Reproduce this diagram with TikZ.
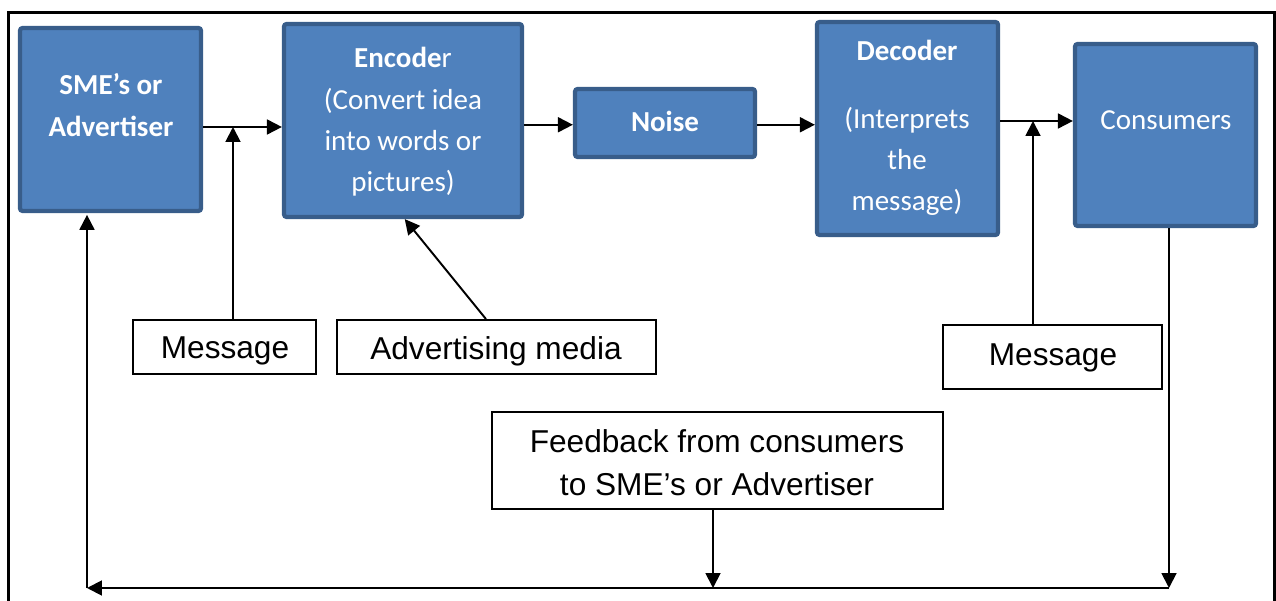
\documentclass[tikz,border=0pt]{standalone}
\usepackage{fontspec}
\setmainfont{Carlito}
\newfontfamily\arialfont{Liberation Sans}
\usetikzlibrary{arrows.meta, positioning, fit}
\definecolor{boxblue}{HTML}{4F81BD}
\definecolor{boxedge}{HTML}{385D8A}

\begin{document}
\begin{tikzpicture}[
    x=0.02cm, y=-0.02cm,
    bluebox/.style={rectangle, rounded corners=1.5pt, draw=boxedge, fill=boxblue, line width=2.4pt, inner sep=0pt},
    boxtext/.style={font=\fontsize{16.5}{23.5}\selectfont, text=white, align=center},
    notebox/.style={rectangle, draw=black, line width=1.1pt, fill=white, inner sep=0pt},
    notetext/.style={font=\arialfont\fontsize{18}{24.4}\selectfont, align=center},
    arrow/.style={-{Triangle[length=8.5pt, width=8.5pt]}, line width=1.1pt}
]
\useasboundingbox (0,0) rectangle (1276,601);

% Outer frame
\draw[line width=2pt] (8.5,601) -- (8.5,12.5) -- (1274.5,12.5) -- (1274.5,601);

% Blue boxes
\node[bluebox, fit={(20,28) (201,211)}] (sme) {};
\node[bluebox, fit={(284,24) (522,217)}] (enc) {};
\node[bluebox, fit={(575,89) (755,157)}] (noise) {};
\node[bluebox, fit={(817,22) (998,235)}] (dec) {};
\node[bluebox, fit={(1075,44) (1256,226)}] (cons) {};

\node[boxtext] (smetxt) at (111,105) {\textbf{SME’s or}\\\textbf{Advertiser}};
\node[boxtext] (enctxt) at (403,122) {\textbf{Encode}r\\(Convert idea\\into words or\\pictures)};
\node[boxtext] (noisetxt) at (665,121) {\textbf{Noise}};
\node[boxtext] (dectxt) at (907,128) {\textbf{Decoder}\\[15pt](Interprets\\the\\message)};
\node[boxtext] (constxt) at (1166,120) {Consumers};

% White boxes
\node[notebox, fit={(133,320) (316,374)}] (msgA) {};
\node[notebox, fit={(337,320) (656,374)}] (media) {};
\node[notebox, fit={(943,325) (1162,389)}] (msgB) {};
\node[notebox, fit={(492,412) (943,509)}] (fb) {};

\node[notetext] (msgAtxt) at (225,351) {Message};
\node[notetext] (mediatxt) at (496,351) {Advertising media};
\node[notetext] (msgBtxt) at (1053,358) {Message};
\node[notetext] (fbtxt) at (717,463) {Feedback from consumers\\to SME’s or Advertiser};

% Junctions
\coordinate (joinA) at (233,127);
\coordinate (joinB) at (1033,121);
\coordinate (fbR) at (1169,588);
\coordinate (fbM) at (713,588);
\coordinate (fbL) at (87,588);

% Forward flow
\draw[arrow] (sme.east |- joinA) -- (enc.west |- joinA);
\draw[arrow] (msgA.north -| joinA) -- (joinA);
\draw[arrow] ([yshift=-1pt]enc.east |- noise.west) -- ([yshift=-1pt]noise.west);
\draw[arrow] ([yshift=-1pt]noise.east) -- ([yshift=-1pt]noise.east -| dec.west);
\draw[arrow] (dec.east |- joinB) -- (cons.west |- joinB);
\draw[arrow] (msgB.north -| joinB) -- (joinB);
\draw[arrow] ([xshift=-6pt]media.north) -- ([xshift=1pt]enc.south);

% Feedback loop
\draw[arrow] (cons.south -| fbR) -- (fbR);
\draw[arrow] (fb.south -| fbM) -- (fbM);
\draw[arrow] (fbR) -- (fbL);
\draw[arrow] (fbL) -- ([yshift=-1pt]sme.south -| fbL);

\end{tikzpicture}
\end{document}
